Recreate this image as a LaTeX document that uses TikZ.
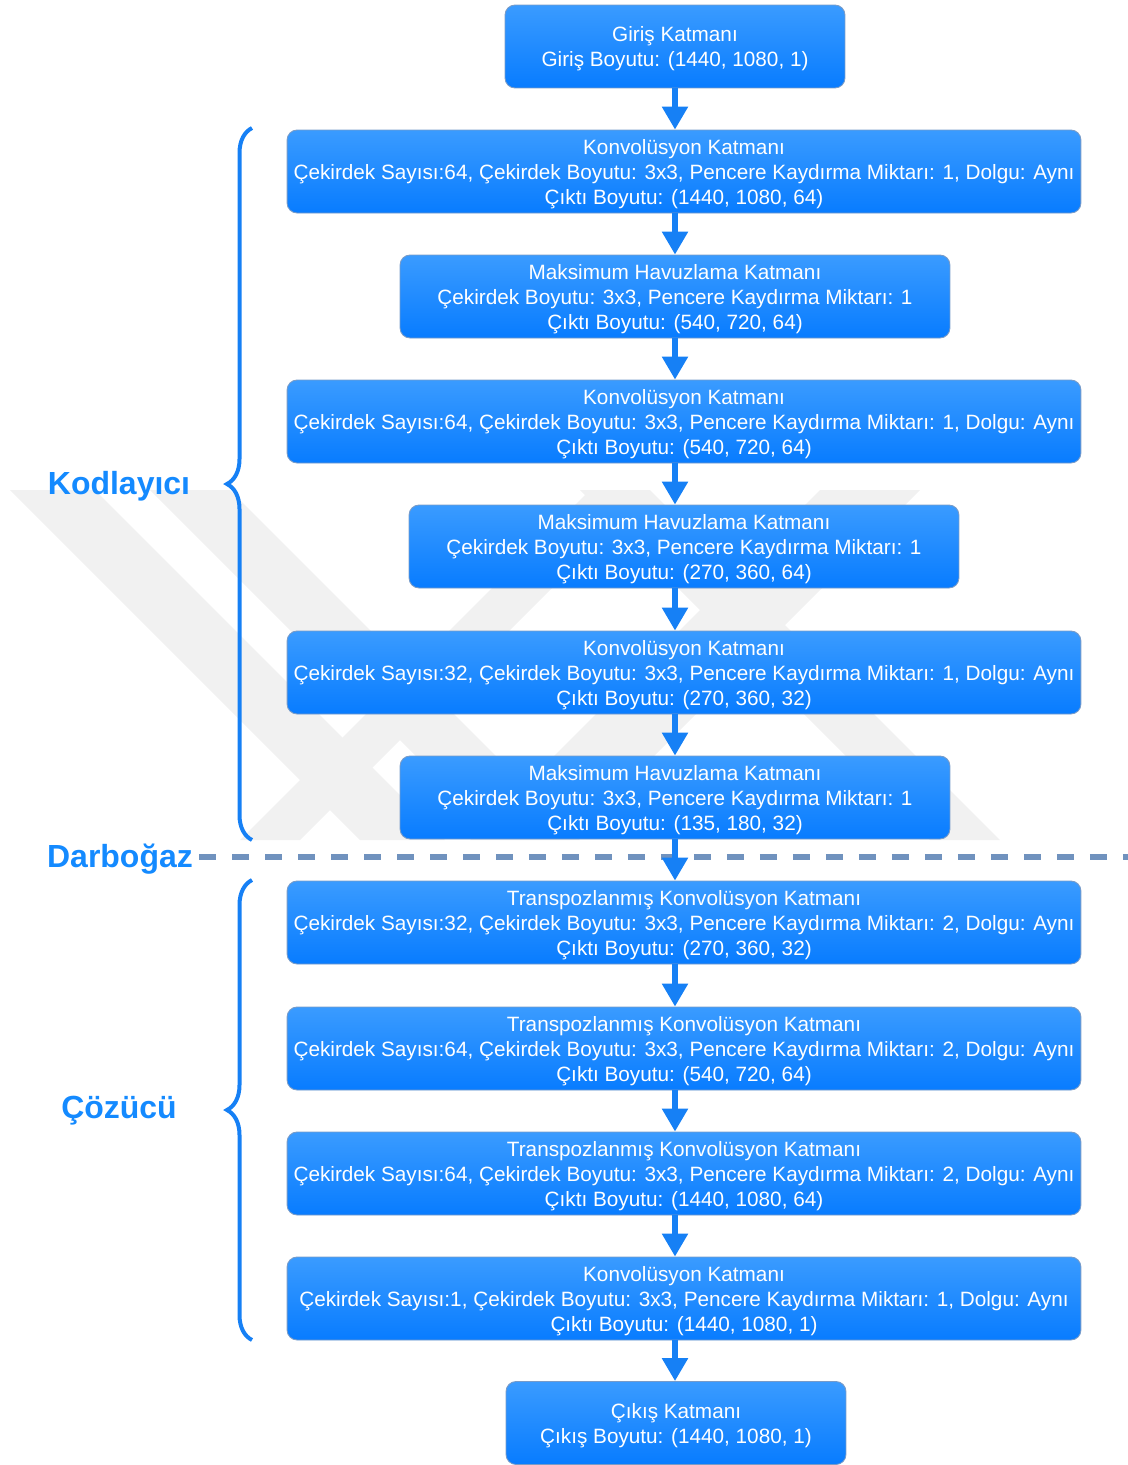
\documentclass[tikz,border=0pt]{standalone}
\usepackage{fontspec}
\setmainfont{Liberation Sans}
\usepackage{tikz}
\usetikzlibrary{arrows.meta, positioning, decorations.pathreplacing}
\usepackage{xcolor}
\definecolor{kblue}{RGB}{20,138,255}
\definecolor{btop}{RGB}{58,155,255}
\definecolor{bbot}{RGB}{8,124,255}
\definecolor{bedge}{RGB}{120,155,200}
\definecolor{aline}{RGB}{22,128,245}
\definecolor{dline}{RGB}{112,146,190}
\definecolor{wmark}{RGB}{241,241,241}
\newcommand{\lyrstrut}{\rule{0pt}{11.2pt}}

\begin{document}
\begin{tikzpicture}[x=0.02cm, y=-0.02cm,
  layer/.style={draw=bedge, line width=0.5pt, rounded corners=0.2cm,
                top color=btop, bottom color=bbot, text=white, align=center,
                font=\fontsize{11.8}{14.2}\selectfont,
                minimum height=1.66cm, inner sep=0pt},
  wide/.style={layer, minimum width=15.88cm},
  mid/.style={layer, minimum width=11cm},
  io/.style={layer, minimum width=6.8cm},
  arr/.style={-{Triangle[width=0.5cm,length=0.46cm]}, aline, line width=0.11cm},
  brc/.style={decorate, decoration={brace, amplitude=0.5cm}, aline, line width=0.08cm},
  part/.style={text=kblue, font=\fontsize{18.2}{20}\selectfont\bfseries}
]
\useasboundingbox (0,0) rectangle (1128,1465);

% watermark
\fill[wmark] (10,490) -- (95,490) -- (445,840) -- (360,840) -- cycle;
\fill[wmark] (150,490) -- (230,490) -- (580,840) -- (500,840) -- cycle;
\fill[wmark] (820,490) -- (920,490) -- (570,840) -- (470,840) -- cycle;
\fill[wmark] (580,490) -- (650,490) -- (1000,840) -- (930,840) -- cycle;
\fill[wmark] (590,490) -- (650,490) -- (300,840) -- (240,840) -- cycle;

% encoder / bottleneck / decoder
\node[part] (kod) at (119,486) {Kodlayıcı};
\node[part] (darb) at (120,859) {Darboğaz};
\node[part] (coz) at (119,1111) {Çözücü};
\coordinate (darbEnd) at (1128,857);
\draw[dline, line width=0.12cm, dash pattern=on 0.34cm off 0.32cm] (darb.east |- darbEnd) -- (darbEnd);

\coordinate (kodA) at (252,840); \coordinate (kodB) at (252,128);
\coordinate (cozA) at (252,1340); \coordinate (cozB) at (252,880);
\draw[brc] (kodA) -- (kodB);
\draw[brc] (cozA) -- (cozB);

% layers
\node[io] (inp) at (675,46.5) {\lyrstrut Giriş Katmanı\\Giriş Boyutu: (1440, 1080, 1)};
\node[wide] (cv1) at (684,171.5) {\lyrstrut Konvolüsyon Katmanı\\Çekirdek Sayısı:64, Çekirdek Boyutu: 3x3, Pencere Kaydırma Miktarı: 1, Dolgu: Aynı\\Çıktı Boyutu: (1440, 1080, 64)};
\node[mid] (mp1) at (675,296.5) {\lyrstrut Maksimum Havuzlama Katmanı\\Çekirdek Boyutu: 3x3, Pencere Kaydırma Miktarı: 1\\Çıktı Boyutu: (540, 720, 64)};
\node[wide] (cv2) at (684,421.5) {\lyrstrut Konvolüsyon Katmanı\\Çekirdek Sayısı:64, Çekirdek Boyutu: 3x3, Pencere Kaydırma Miktarı: 1, Dolgu: Aynı\\Çıktı Boyutu: (540, 720, 64)};
\node[mid] (mp2) at (684,546.5) {\lyrstrut Maksimum Havuzlama Katmanı\\Çekirdek Boyutu: 3x3, Pencere Kaydırma Miktarı: 1\\Çıktı Boyutu: (270, 360, 64)};
\node[wide] (cv3) at (684,672.5) {\lyrstrut Konvolüsyon Katmanı\\Çekirdek Sayısı:32, Çekirdek Boyutu: 3x3, Pencere Kaydırma Miktarı: 1, Dolgu: Aynı\\Çıktı Boyutu: (270, 360, 32)};
\node[mid] (mp3) at (675,797.5) {\lyrstrut Maksimum Havuzlama Katmanı\\Çekirdek Boyutu: 3x3, Pencere Kaydırma Miktarı: 1\\Çıktı Boyutu: (135, 180, 32)};
\node[wide] (tc1) at (684,922.5) {\lyrstrut Transpozlanmış Konvolüsyon Katmanı\\Çekirdek Sayısı:32, Çekirdek Boyutu: 3x3, Pencere Kaydırma Miktarı: 2, Dolgu: Aynı\\Çıktı Boyutu: (270, 360, 32)};
\node[wide] (tc2) at (684,1048.5) {\lyrstrut Transpozlanmış Konvolüsyon Katmanı\\Çekirdek Sayısı:64, Çekirdek Boyutu: 3x3, Pencere Kaydırma Miktarı: 2, Dolgu: Aynı\\Çıktı Boyutu: (540, 720, 64)};
\node[wide] (tc3) at (684,1173.5) {\lyrstrut Transpozlanmış Konvolüsyon Katmanı\\Çekirdek Sayısı:64, Çekirdek Boyutu: 3x3, Pencere Kaydırma Miktarı: 2, Dolgu: Aynı\\Çıktı Boyutu: (1440, 1080, 64)};
\node[wide] (cv4) at (684,1298.5) {\lyrstrut Konvolüsyon Katmanı\\Çekirdek Sayısı:1, Çekirdek Boyutu: 3x3, Pencere Kaydırma Miktarı: 1, Dolgu: Aynı\\Çıktı Boyutu: (1440, 1080, 1)};
\node[io] (out) at (676,1423) {\lyrstrut Çıkış Katmanı\\Çıkış Boyutu: (1440, 1080, 1)};

% flow
\coordinate (axis) at (675,0);
\foreach \a/\b in {inp/cv1, cv1/mp1, mp1/cv2, cv2/mp2, mp2/cv3, cv3/mp3,
                   mp3/tc1, tc1/tc2, tc2/tc3, tc3/cv4, cv4/out}
  \draw[arr] (\a.south -| axis) -- (\b.north -| axis);
\end{tikzpicture}
\end{document}
